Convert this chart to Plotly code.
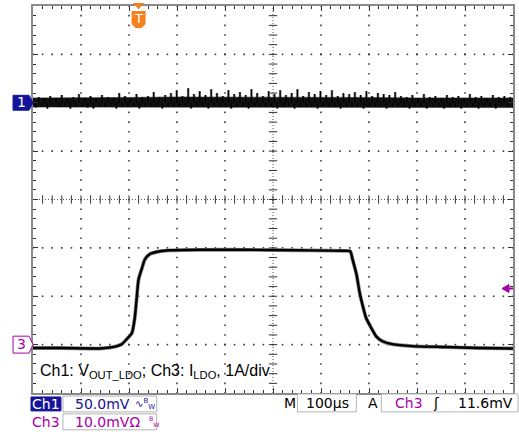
import numpy as np
import plotly.graph_objects as go

# ---------------- data ----------------
time_per_div_us = 100
n_div_x = 10
n_div_y = 8
ch1_scale_mv = 50.0      # mV/div
ch3_scale_a = 1.0        # A/div
ch1_pos_div = 6.0
ch3_pos_div = 1.0
trigger_time_us = 220
trigger_level_mv = 11.6
ch3_probe_mv_div = 10.0

# Ch3: LDO load current step (A) vs time (us from left edge)
ch3_t_us = [0, 56, 118, 139, 160, 175, 185, 195, 206, 212, 216, 220, 227, 233, 243, 264, 285,
            347, 451, 555, 649, 661, 665, 674, 680, 686, 694, 705, 715, 728, 748, 790, 861, 929, 1000]
ch3_i_a = [-0.07, -0.07, -0.08, -0.08, -0.06, -0.03, 0.01, 0.11, 0.24, 0.55, 0.96, 1.35, 1.58, 1.76,
           1.87, 1.93, 1.95, 1.96, 1.96, 1.95, 1.94, 1.93, 1.79, 1.45, 1.10, 0.84, 0.55, 0.34, 0.17,
           0.07, 0.01, -0.03, -0.05, -0.07, -0.08]

# Ch1: LDO output ripple (mV around the channel-1 position), read across the screen
ch1_noise_mv = [3, -5, 6, -3, 5, -6, 7, -2, 5, -4, 8, -3, 4, -6, 6, -4, 9, -3, 5, -5, 7, -6, 4, -3, 8,
                -4, 6, -2, 5, -6, 10, -3, 7, -4, 5, -3, 9, -6, 6, -3, 7, -4, 11, -3, 6, -6, 8, -4, 10, -3,
                13, -4, 7, -3, 15, -6, 9, -3, 12, -4, 8, -6, 14, -3, 10, -4, 7, -3, 13, -6, 9, -4, 11, -3,
                8, -6, 14, -4, 10, -3, 7, -4, 12, -3, 9, -6, 13, -4, 8, -3, 10, -6, 14, -4, 7, -3, 11, -4,
                9, -6, 12, -3, 8, -4, 13, -3, 7, -6, 10, -4, 9, -3, 11, -4, 8, -6, 12, -3, 7, -4, 10, -3,
                9, -6, 8, -4, 11, -3, 7, -4, 6, -6, 8, -3, 5, -4, 9, -6, 6, -3, 7, -4, 5, -6, 8, -3, 6,
                -4, 7, -6, 5, -3, 9, -4, 6, -6, 7, -3, 5, -4, 8, -6, 6, -3, 7, -4, 6, -5]
# Ch1 solid noise core (upper / lower edge in mV), read at each division
ch1_core_t_us = [0, 100, 200, 300, 400, 500, 600, 700, 800, 900, 1000]
ch1_core_hi_mv = [5, 5, 5.5, 6, 6, 5.5, 5.5, 5.5, 5, 5, 5]
ch1_core_lo_mv = [-4.5, -4.5, -4.5, -5, -5, -4.5, -4.5, -5, -5, -5, -5]

ch1_label = "Ch1"
ch3_label = "Ch3"
ch1_readout = "50.0mV"
ch3_readout = "10.0mV"
timebase_readout = "100µs"
trigger_readout = "11.6mV"
caption = "Ch1: V<sub>OUT_LDO</sub>; Ch3: I<sub>LDO</sub>, 1A/div"

# ---------------- styling ----------------
W, H = 519, 432
L, R, T, B = 33, 5, 4, 39
PW, PH = W - L - R, H - T - B
NAVY = "#14149a"
MAG = "#a800a8"
ORANGE = "#f7801e"
FONT = "DejaVu Sans"

def PX(x):
    return (x - L) / PW

def PY(y):
    return (H - B - y) / PH

us_per_px = time_per_div_us / (PW / n_div_x)
div_per_px = n_div_y / PH

x_max = time_per_div_us * n_div_x
fig = go.Figure()

# graticule dots
gx, gy = [], []
for i in range(1, n_div_x):
    if i == n_div_x // 2:
        continue
    for j in range(0, n_div_y * 5 + 1):
        gx.append(i * time_per_div_us)
        gy.append(j * 0.2)
for k in range(1, n_div_y):
    if k == n_div_y // 2:
        continue
    for m in range(0, n_div_x * 5 + 1):
        gx.append(m * time_per_div_us / 5)
        gy.append(k)
fig.add_trace(go.Scatter(x=gx, y=gy, mode="markers", hoverinfo="skip",
                         marker=dict(symbol="square", size=1.6, color="#3a3a3a", line=dict(width=0))))
# center cross
cx = x_max / 2
cy = n_div_y / 2
fig.add_trace(go.Scatter(x=[0, x_max], y=[cy, cy], mode="lines", hoverinfo="skip",
                         line=dict(color="#555", width=1, dash="1px,2px")))
fig.add_trace(go.Scatter(x=[cx, cx], y=[0, n_div_y], mode="lines", hoverinfo="skip",
                         line=dict(color="#555", width=1, dash="1px,2px")))
fig.add_trace(go.Scatter(x=[m * time_per_div_us / 5 for m in range(1, n_div_x * 5)],
                         y=[cy] * (n_div_x * 5 - 1), mode="markers", hoverinfo="skip",
                         marker=dict(symbol="line-ns", size=6, line=dict(color="#333", width=1))))
fig.add_trace(go.Scatter(x=[cx] * (n_div_y * 5 - 1), y=[j * 0.2 for j in range(1, n_div_y * 5)],
                         mode="markers", hoverinfo="skip",
                         marker=dict(symbol="line-ew", size=6, line=dict(color="#333", width=1))))

# Ch1 trace: solid core band + vertical noise spikes
core_x = list(ch1_core_t_us) + list(ch1_core_t_us[::-1])
core_y = [ch1_pos_div + v / ch1_scale_mv for v in ch1_core_hi_mv] + \
         [ch1_pos_div + v / ch1_scale_mv for v in ch1_core_lo_mv[::-1]]
t1 = np.linspace(0, x_max, len(ch1_noise_mv))
sx, sy = [], []
for t, v in zip(t1, ch1_noise_mv):
    sx += [t, t, None]
    sy += [ch1_pos_div, ch1_pos_div + v / ch1_scale_mv, None]
fig.add_trace(go.Scatter(x=sx, y=sy, mode="lines", hoverinfo="skip",
                         line=dict(color="#8c8c8c", width=2.6)))
fig.add_trace(go.Scatter(x=core_x, y=core_y, mode="lines", fill="toself", fillcolor="#111",
                         hoverinfo="skip", line=dict(color="#111", width=0.5)))
fig.add_trace(go.Scatter(x=sx, y=sy, mode="lines", hoverinfo="skip",
                         line=dict(color="#000", width=1.3)))

# Ch3 trace
y3 = ch3_pos_div + np.array(ch3_i_a) / ch3_scale_a
fig.add_trace(go.Scatter(x=ch3_t_us, y=y3, mode="lines", hoverinfo="skip",
                         line=dict(color="#888", width=3.8, shape="spline", smoothing=0.6)))
fig.add_trace(go.Scatter(x=ch3_t_us, y=y3, mode="lines", hoverinfo="skip",
                         line=dict(color="#000", width=2.4, shape="spline", smoothing=0.6)))

shapes = []
# Ch1 marker
d = 7.5 * div_per_px
y0 = ch1_pos_div
shapes.append(dict(type="path", xref="paper", yref="y",
                   path=f"M {PX(13)},{y0+d} L {PX(29)},{y0+d} L {PX(33)},{y0} L {PX(29)},{y0-d} L {PX(13)},{y0-d} Z",
                   fillcolor=NAVY, line=dict(color=NAVY, width=1)))
# Ch3 marker
d3 = 8.5 * div_per_px
y0 = ch3_pos_div
shapes.append(dict(type="path", xref="paper", yref="y",
                   path=f"M {PX(13)},{y0+d3} L {PX(29)},{y0+d3} L {PX(33)},{y0} L {PX(29)},{y0-d3} L {PX(13)},{y0-d3} Z",
                   fillcolor="white", line=dict(color=MAG, width=1)))
# trigger position marker
tt = trigger_time_us
u = us_per_px
shapes.append(dict(type="path", xref="x", yref="paper",
                   path=f"M {tt-6*u},{PY(1)} L {tt+6*u},{PY(1)} L {tt},{PY(7)} Z",
                   fillcolor=ORANGE, line=dict(color=ORANGE, width=0)))
shapes.append(dict(type="path", xref="x", yref="paper",
                   path=f"M {tt-7*u},{PY(9)} L {tt+7*u},{PY(9)} L {tt+7*u},{PY(22)} L {tt+3*u},{PY(26)} "
                        f"L {tt-3*u},{PY(26)} L {tt-7*u},{PY(22)} Z",
                   fillcolor=ORANGE, line=dict(color=ORANGE, width=0)))
# trigger level arrow
yl = ch3_pos_div + trigger_level_mv / ch3_probe_mv_div
dl = 4 * div_per_px
shapes.append(dict(type="path", xref="paper", yref="y",
                   path=f"M {PX(503)},{yl} L {PX(510)},{yl+dl} L {PX(510)},{yl-dl} Z",
                   fillcolor=MAG, line=dict(color=MAG, width=1)))
shapes.append(dict(type="line", xref="paper", yref="y", x0=PX(509), x1=PX(514), y0=yl, y1=yl,
                   line=dict(color=MAG, width=2)))
# readout boxes
def box(x0, y0, x1, y1, fill="white", col="#b4b4b4"):
    shapes.append(dict(type="rect", xref="paper", yref="paper", x0=PX(x0), x1=PX(x1),
                       y0=PY(y1), y1=PY(y0), fillcolor=fill, line=dict(color=col, width=1)))

box(31, 397, 61, 411, fill=NAVY, col=NAVY)
box(63, 396, 157, 412)
box(63, 414, 157, 430)
box(298, 394, 357, 412)
box(382, 394, 519, 412)

ann = []
def text(s, x, y, color, size=14, xanchor="left", family=FONT):
    ann.append(dict(text=s, x=PX(x), y=PY(y), xref="paper", yref="paper", showarrow=False,
                    xanchor=xanchor, yanchor="middle", font=dict(family=family, size=size, color=color)))

text("1", 21, 100.5, "white", size=14, xanchor="center")
text("3", 21, 343.5, MAG, size=14, xanchor="center")
ann.append(dict(text="T", x=tt, y=PY(17), xref="x", yref="paper", showarrow=False,
                xanchor="center", yanchor="middle", font=dict(family=FONT, size=13, color="white")))
text(caption, 38, 371, "black", size=16, family="Liberation Sans")
text(ch1_label, 46, 404, "white", xanchor="center")
text(ch1_readout, 73, 404, NAVY)
text("∿<sup>B</sup><sub>W</sub>", 133, 404, NAVY, size=10)
text(ch3_label, 46, 422, MAG, xanchor="center")
text(ch3_readout + "Ω", 73, 422, MAG)
text("<sup>B</sup><sub>W</sub>", 147, 422, MAG, size=9)
text("M", 291, 403, "black", xanchor="center")
text(timebase_readout, 328, 403, "black", xanchor="center")
text("A", 374, 403, "black", xanchor="center")
text(ch3_label, 394, 403, MAG)
text("ʃ", 437, 403, "black", xanchor="center")
text(trigger_readout, 457, 403, "black")

axis_common = dict(showgrid=False, zeroline=False, showticklabels=False, ticks="inside",
                   tickcolor="#333", showline=True, linecolor="#8a8a8a", linewidth=2,
                   mirror="ticks", fixedrange=True)
fig.update_layout(
    width=W, height=H, margin=dict(l=L, r=R, t=T, b=B),
    paper_bgcolor="white", plot_bgcolor="white", showlegend=False,
    xaxis=dict(range=[0, x_max], tick0=0, dtick=time_per_div_us, ticklen=5,
               minor=dict(dtick=time_per_div_us / 5, ticklen=3, ticks="inside", tickcolor="#333"),
               **axis_common),
    yaxis=dict(range=[0, n_div_y], tick0=0, dtick=1, ticklen=5,
               minor=dict(dtick=0.2, ticklen=3, ticks="inside", tickcolor="#333"),
               **axis_common),
    shapes=shapes, annotations=ann,
)
fig.write_html("out.html")
